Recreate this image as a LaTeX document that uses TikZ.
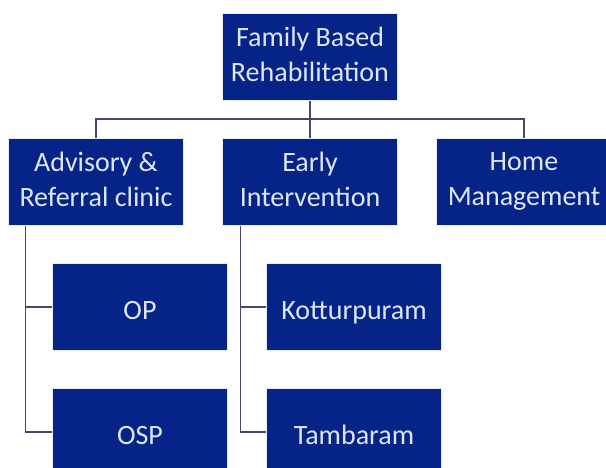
\documentclass[tikz,border=0pt]{standalone}
\usepackage{fontspec}
\setmainfont{Carlito}
\definecolor{boxblue}{RGB}{6,36,136}
\definecolor{boxtext}{RGB}{222,230,245}
\definecolor{linkgray}{RGB}{70,70,110}
\newcommand\boxstrut{\rule[-5.5pt]{0pt}{35pt}}
\tikzset{
  unit/.style={draw=boxtext!70, line width=0.6pt, fill=boxblue, text=boxtext,
    minimum width=175pt, minimum height=87pt, inner sep=0pt, align=center,
    font=\fontsize{28}{35}\selectfont,
    execute at begin node=\boxstrut, execute at end node=\boxstrut},
  link/.style={draw=linkgray, line width=1.2pt}
}
\begin{document}
\begin{tikzpicture}[x=1pt, y=-1pt]
\useasboundingbox (0,0) rectangle (606,467);
%
\node[unit] (fbr) at (310,57) {Family Based\\Rehabilitation};
%
\node[unit] (adv) at (96,182) {Advisory \&\\Referral clinic};
\node[unit] (early) at (310,182) {Early\\Intervention};
\node[unit] (home) at (524,182) {Home\\Management};
%
\node[unit] (op) at (140,307) {OP};
\node[unit] (osp) at (140,432) {OSP};
\node[unit] (kot) at (354,307) {Kotturpuram};
\node[unit] (tam) at (354,432) {Tambaram};
%
\coordinate (bus) at (310,119);
\draw[link] (fbr.south) -- (early.north);
\draw[link] (bus) -| (adv.north);
\draw[link] (bus) -| (home.north);
%
\draw[link] ([xshift=17.5pt]adv.south west) |- (op.west);
\draw[link] ([xshift=17.5pt]adv.south west) |- (osp.west);
\draw[link] ([xshift=18pt]early.south west) |- (kot.west);
\draw[link] ([xshift=18pt]early.south west) |- (tam.west);
%
\end{tikzpicture}
\end{document}
